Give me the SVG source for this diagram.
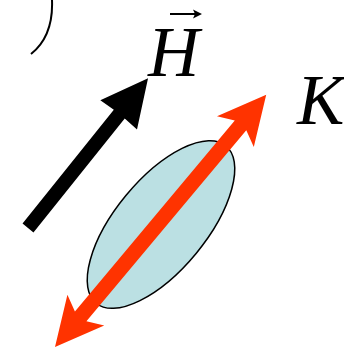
<svg xmlns="http://www.w3.org/2000/svg" width="344" height="347" viewBox="0 0 344 347">
<style>
.lbl{font-family:"Liberation Serif","Times New Roman",serif;font-style:italic;font-size:71px;fill:#000}
</style>
<rect width="344" height="347" fill="#fff"/>
<path d="M52,0 C53,24 46,42 31,54" fill="none" stroke="#000" stroke-width="2"/>
<g id="ellipse">
<ellipse cx="161" cy="224.5" rx="102" ry="45.5" transform="rotate(-50.5 161 224.5)" fill="#BBE0E3" stroke="#000" stroke-width="1.5"/>
</g>
<g id="connectors">
<path id="H-arrow" d="M0,-7 L146,-7 L145,-23.5 L192,0 L145,23.5 L146,7 L0,7 Z" transform="translate(28,228) rotate(-51.3)" fill="#000"/>
<path id="K-arrow" d="M0,0 L48,-24 L40,-7.5 L289,-7.5 L281,-24 L329,0 L281,24 L289,7.5 L40,7.5 L48,24 Z" transform="translate(55,347) rotate(-50.06)" fill="#FF3300"/>
</g>
<g id="label-H">
<text class="lbl" x="148" y="76">H</text>
<path d="M170,14 L196,14" stroke="#000" stroke-width="2"/>
<path d="M202,14 L193,9.5 L195,14 L193,18.5 Z" fill="#000"/>
</g>
<g id="label-K">
<text class="lbl" x="297" y="124">K</text>
</g>
</svg>
